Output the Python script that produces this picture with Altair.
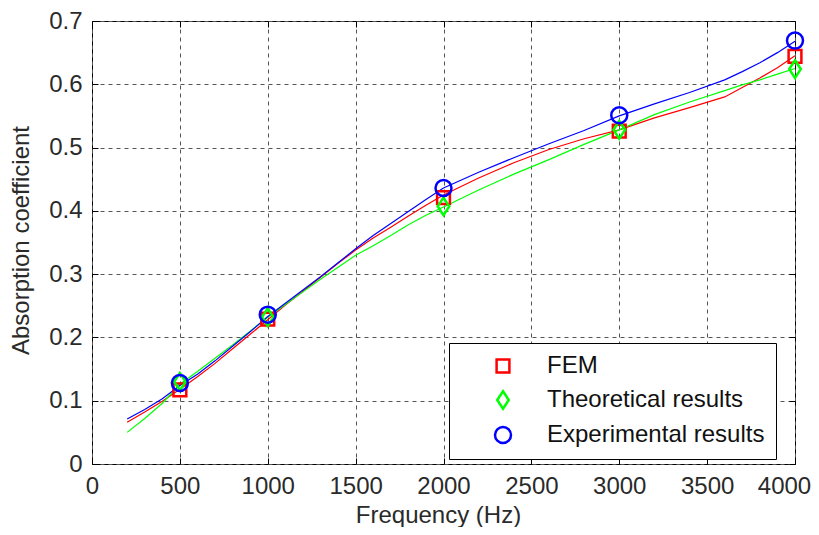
import altair as alt
import pandas as pd

# ---- data -------------------------------------------------------------
series_names = ["FEM", "Theoretical results", "Experimental results"]
series_colors = ["#ff0000", "#00ff00", "#0000ff"]

line_freq = [200, 300, 400, 500, 600, 700, 800, 900, 1000, 1100, 1200, 1300,
             1400, 1500, 1600, 1700, 1800, 1900, 2000, 2200, 2400, 2600, 2800,
             3000, 3200, 3400, 3600, 3700, 3800, 3900, 4000]
fem_line = [0.066, 0.082, 0.099, 0.118, 0.138, 0.159, 0.182, 0.205, 0.228, 0.251,
            0.273, 0.295, 0.317, 0.338, 0.357, 0.374, 0.392, 0.409, 0.425, 0.452,
            0.476, 0.497, 0.514, 0.528, 0.547, 0.563, 0.580, 0.595, 0.610, 0.626, 0.645]
theo_line = [0.050, 0.072, 0.096, 0.126, 0.146, 0.167, 0.188, 0.210, 0.232, 0.252,
             0.272, 0.292, 0.311, 0.330, 0.345, 0.361, 0.378, 0.393, 0.406, 0.433,
             0.458, 0.481, 0.505, 0.528, 0.552, 0.572, 0.590, 0.599, 0.607, 0.616, 0.625]
exp_line = [0.071, 0.086, 0.103, 0.124, 0.142, 0.163, 0.186, 0.209, 0.233, 0.254,
            0.275, 0.296, 0.318, 0.340, 0.361, 0.380, 0.399, 0.418, 0.436, 0.461,
            0.484, 0.506, 0.527, 0.550, 0.569, 0.587, 0.607, 0.620, 0.634, 0.650, 0.668]

marker_freq = [500, 1000, 2000, 3000, 4000]
fem_marker = [0.117, 0.229, 0.421, 0.526, 0.644]
theo_marker = [0.130, 0.232, 0.407, 0.528, 0.624]
exp_marker = [0.128, 0.236, 0.436, 0.551, 0.669]

x_ticks = [0, 500, 1000, 1500, 2000, 2500, 3000, 3500, 4000]
y_ticks = [0, 0.1, 0.2, 0.3, 0.4, 0.5, 0.6, 0.7]

# ---- tables -------------------------------------------------------------
line_rows = []
for name, vals in zip(series_names, [fem_line, theo_line, exp_line]):
    for f, v in zip(line_freq, vals):
        line_rows.append({"freq": f, "value": v, "series": name})
line_df = pd.DataFrame(line_rows)

mk_rows = []
for name, vals in zip(series_names, [fem_marker, theo_marker, exp_marker]):
    for f, v in zip(marker_freq, vals):
        mk_rows.append({"freq": f, "value": v, "series": name})
mk_df = pd.DataFrame(mk_rows)

FONT = "Liberation Sans"
TXT = "#2a2a2a"
FS = 24

xscale = alt.Scale(domain=[0, 4000], nice=False, zero=False)
yscale = alt.Scale(domain=[0, 0.7], nice=False, zero=False)
cscale = alt.Scale(domain=series_names, range=series_colors)
# line colour scale listed in another order so its (hidden) legend is not merged
line_scale = alt.Scale(domain=series_names[::-1], range=series_colors[::-1])
sscale = alt.Scale(domain=series_names,
                   range=["M-0.8,-0.8H0.8V0.8H-0.8Z",
                          "M0,-1.1L0.72,0L0,1.1L-0.72,0Z",
                          "circle"])

x_axis = alt.Axis(values=x_ticks, format="d", grid=True, gridDash=[4, 4], gridColor="#555555",
                  gridOpacity=1, gridWidth=1, domain=False, labelOverlap=False,
                  labelFlush=False,
                  ticks=True, tickSize={"expr": "-6"}, tickColor="#000000", tickWidth=1,
                  labelFont=FONT, labelFontSize=FS, labelColor=TXT, labelPadding=16,
                  labelOffset={"condition": {"test": "datum.value == 4000", "value": -11}, "value": 0},
                  title="Frequency (Hz)", titleFont=FONT, titleFontSize=FS,
                  titleFontWeight="normal", titleColor=TXT,
                  titleBaseline="alphabetic", titleY=58, titleX=346)
y_axis = alt.Axis(values=y_ticks, grid=True, gridDash=[4, 4], gridColor="#555555",
                  gridOpacity=1, gridWidth=1, domain=False, labelOverlap=False,
                  labelFlush=False,
                  ticks=True, tickSize={"expr": "-6"}, tickColor="#000000", tickWidth=1,
                  labelFont=FONT, labelFontSize=FS, labelColor=TXT, labelPadding=16,
                  labelExpr="datum.value == 0 ? '0' : format(datum.value, '.1f')",
                  title="Absorption coefficient", titleFont=FONT, titleFontSize=FS,
                  titleFontWeight="normal", titleColor=TXT,
                  titleBaseline="middle", titleX=-71, titleY=219, titleAngle=270)

lines = alt.Chart(line_df).mark_line(strokeWidth=1.2).encode(
    x=alt.X("freq:Q", scale=xscale, axis=x_axis),
    y=alt.Y("value:Q", scale=yscale, axis=y_axis),
    stroke=alt.Stroke("series:N", scale=line_scale, legend=None),
    detail="series:N",
    order=alt.Order("freq:Q"),
)

legend = alt.Legend(title=None, orient="none", legendX=357, legendY=322,
                    strokeColor="#000000", fillColor="#ffffff", padding=11,
                    labelFont=FONT, labelFontSize=FS, labelColor="#111111",
                    symbolSize=256, symbolStrokeWidth=2.5, rowPadding=8,
                    symbolOffset=31, labelOffset=32, labelLimit=400)

points = alt.Chart(mk_df).mark_point(filled=False, size=256, strokeWidth=2.5, opacity=1).encode(
    x=alt.X("freq:Q", scale=xscale, axis=None),
    y=alt.Y("value:Q", scale=yscale, axis=None),
    color=alt.Color("series:N", scale=cscale, legend=legend),
    shape=alt.Shape("series:N", scale=sscale, legend=legend),
)

tick_axis_x = alt.Axis(orient="top", values=x_ticks, labels=False, grid=False, domain=False,
                       ticks=True, tickSize={"expr": "-6"}, tickColor="#000000", title=None)
tick_axis_y = alt.Axis(orient="right", values=y_ticks, labels=False, grid=False, domain=False,
                       ticks=True, tickSize={"expr": "-6"}, tickColor="#000000", title=None)
frame_ticks = alt.Chart(mk_df).mark_point(opacity=0).encode(
    x=alt.X("freq:Q", scale=xscale, axis=tick_axis_x),
    y=alt.Y("value:Q", scale=yscale, axis=tick_axis_y),
)

chart = alt.layer(lines, points, frame_ticks).resolve_axis(
    x="independent", y="independent"
).properties(
    width=703, height=443,
    autosize=alt.AutoSizeParams(type="none"),
    padding={"left": 84, "top": 13, "right": 16, "bottom": 63},
    background="#ffffff",
).configure_view(stroke="#000000", strokeWidth=1)

chart.save("out.html", embed_options={"renderer": "svg", "actions": False})
